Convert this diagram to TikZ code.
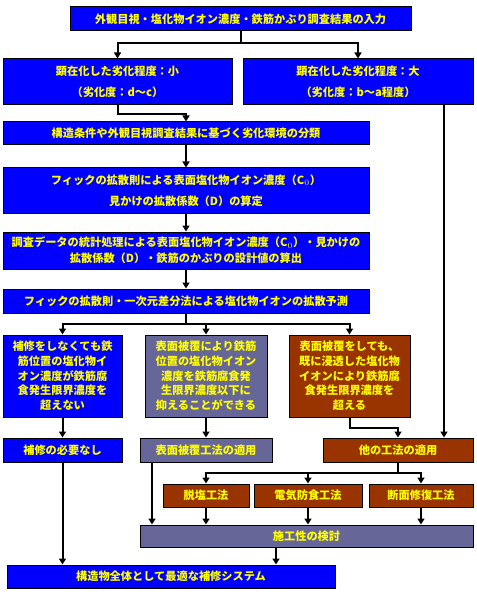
\documentclass[tikz,border=0pt]{standalone}
\usepackage{fontspec}
\setmainfont{Noto Sans CJK JP}
\usetikzlibrary{arrows.meta}

\definecolor{boxblue}{RGB}{0,0,255}
\definecolor{boxslate}{RGB}{102,102,153}
\definecolor{boxbrown}{RGB}{153,51,0}
\definecolor{txtyellow}{RGB}{255,255,0}

\tikzset{every picture/.style={line width=0.75pt}}
\tikzset{
  box/.style 2 args={draw=black, line width=0.75pt, text=txtyellow, font=\bfseries\fontsize{8.4}{11}\selectfont, align=center, inner sep=0pt, minimum width=#1*0.75pt, minimum height=#2*0.75pt},
  conn/.style={draw=black, line width=1.5pt},
  arr/.style={conn, -{Triangle[length=4.5pt,width=5.25pt]}},
}

\begin{document}
\begin{tikzpicture}[x=0.75pt,y=0.75pt,yscale=-1,xscale=1]
\useasboundingbox (0,0) rectangle (476,595);

%Shape: Rectangle
\node [box={341}{24}, fill=boxblue] (input) at (240.5,19) {外観目視・塩化物イオン濃度・鉄筋かぶり調査結果の入力};
%Shape: Rectangle
\node [box={229}{46}, fill=boxblue] (small) at (117.5,82) {顕在化した劣化程度：小\\[4.7pt]（劣化度：d～c）};
%Shape: Rectangle
\node [box={230}{46}, fill=boxblue] (large) at (358,82) {顕在化した劣化程度：大\\[4.7pt]（劣化度：b～a程度）};
%Shape: Rectangle
\node [box={366}{23}, fill=boxblue] (env) at (186,133.5) {構造条件や外観目視調査結果に基づく劣化環境の分類};
%Shape: Rectangle
\node [box={366}{45}, fill=boxblue] (fick) at (186,190.5) {フィックの拡散則による表面塩化物イオン濃度（C$_0$）\\[4.7pt]見かけの拡散係数（D）の算定};
%Shape: Rectangle
\node [box={366}{37}, fill=boxblue] (stat) at (186,250.5) {調査データの統計処理による表面塩化物イオン濃度（C$_0$）・見かけの\\[1pt]拡散係数（D）・鉄筋のかぶりの設計値の算出};
%Shape: Rectangle
\node [box={366}{24}, fill=boxblue] (pred) at (186,301) {フィックの拡散則・一次元差分法による塩化物イオンの拡散予測};

%Shape: Rectangle
\node [box={119}{82}, fill=boxblue] (caseA) at (62.5,376) {補修をしなくても鉄\\筋位置の塩化物イ\\オン濃度が鉄筋腐\\食発生限界濃度を\\超えない};
%Shape: Rectangle
\node [box={122}{82}, fill=boxslate] (caseB) at (206,376) {表面被覆により鉄筋\\位置の塩化物イオン\\濃度を鉄筋腐食発\\生限界濃度以下に\\抑えることができる};
%Shape: Rectangle
\node [box={121}{82}, fill=boxbrown] (caseC) at (349.5,376) {表面被覆をしても、\\既に浸透した塩化物\\イオンにより鉄筋腐\\食発生限界濃度を\\超える};

%Shape: Rectangle
\node [box={119}{24}, fill=boxblue] (none) at (62.5,450) {補修の必要なし};
%Shape: Rectangle
\node [box={132}{24}, fill=boxslate] (coat) at (206,450) {表面被覆工法の適用};
%Shape: Rectangle
\node [box={150}{24}, fill=boxbrown] (other) at (398,450) {他の工法の適用};

%Shape: Rectangle
\node [box={86}{23}, fill=boxbrown] (desalt) at (206,495.5) {脱塩工法};
%Shape: Rectangle
\node [box={108}{23}, fill=boxbrown] (cathod) at (308,495.5) {電気防食工法};
%Shape: Rectangle
\node [box={104}{23}, fill=boxbrown] (repair) at (421,495.5) {断面修復工法};

%Shape: Rectangle
\node [box={333}{22}, fill=boxslate] (exec) at (306.5,536) {施工性の検討};
%Shape: Rectangle
\node [box={328}{23}, fill=boxblue] (system) at (171,576.5) {構造物全体として最適な補修システム};

% free ends
\coordinate (largedrop) at (444,105);
\coordinate (coatdrop) at (152,462);
\coordinate (execdrop) at (276,547);

%Straight Lines
\draw [arr] (input.south) -- ++(0,12) -| (small.north);
\draw [arr] (input.south) -- ++(0,12) -| (large.north);
%Straight Lines
\draw [arr] (small.south) -- ++(0,9) -| (env.north);
\draw [arr] (largedrop) -- (largedrop |- other.north);
%Straight Lines
\draw [arr] (env.south) -- (fick.north);
\draw [arr] (fick.south) -- (stat.north);
\draw [arr] (stat.south) -- (pred.north);
%Straight Lines
\draw [arr] (pred.south) -- ++(0,10) -| (caseA.north);
\draw [arr] (pred.south) -- ++(0,10) -| (caseB.north);
\draw [arr] (pred.south) -- ++(0,10) -| (caseC.north);
%Straight Lines
\draw [arr] (caseA.south) -- (none.north);
\draw [arr] (caseB.south) -- (coat.north);
\draw [arr] (caseC.south) -- ++(0,10) -| (other.north);
%Straight Lines
\draw [arr] (other.south) -- ++(0,10) -| (desalt.north);
\draw [arr] (other.south) -- ++(0,10) -| (cathod.north);
\draw [arr] (other.south) -- ++(0,10) -| (repair.north);
%Straight Lines
\draw [arr] (coatdrop) -- (coatdrop |- exec.north);
\draw [arr] (desalt.south) -- (desalt.south |- exec.north);
\draw [arr] (cathod.south) -- (cathod.south |- exec.north);
\draw [arr] (repair.south) -- (repair.south |- exec.north);
%Straight Lines
\draw [arr] (none.south) -- (none.south |- system.north);
\draw [arr] (execdrop) -- (execdrop |- system.north);

\end{tikzpicture}
\end{document}
